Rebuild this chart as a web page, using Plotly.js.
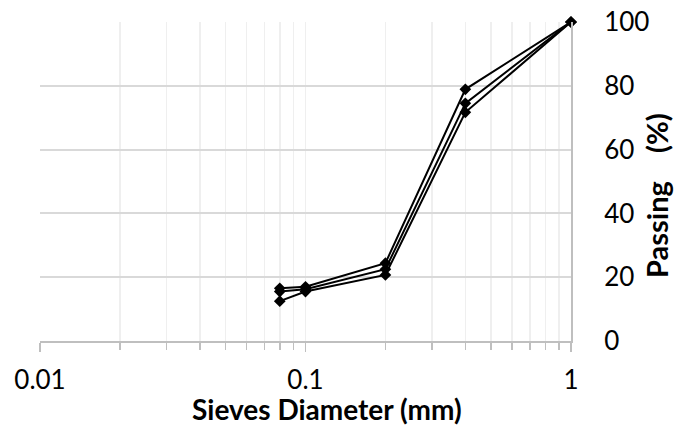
<!DOCTYPE html>
<html>
<head>
<meta charset="utf-8">
<script src="https://cdn.plot.ly/plotly-3.0.1.min.js"></script>
<style>
  html, body { margin: 0; padding: 0; background: #fff; }
  #chart { width: 675px; height: 430px; }
</style>
</head>
<body>
<div id="chart"></div>
<script>
// Sieve sizes (mm) and percent passing for three samples
const sieveSizes = [0.08, 0.1, 0.2, 0.4, 1];
const passingA = [16.5, 17.0, 24.4, 78.9, 100];
const passingB = [15.5, 16.2, 22.5, 74.5, 100];
const passingC = [12.5, 15.5, 20.7, 71.7, 100];
const xTickVals = [0.01, 0.1, 1];
const xTickText = ['0.01', '0.1', '1'];
const yTickVals = [0, 20, 40, 60, 80, 100];
const xTitle = 'Sieves Diameter (mm)';
const yTitle = 'Passing\u00a0\u00a0\u00a0\u00a0(%)';

const FONT = 'Lato, "Open Sans", sans-serif';

function curve(y) {
  return {
    x: sieveSizes, y: y, type: 'scatter', mode: 'lines+markers',
    line: { color: '#000', width: 2 },
    marker: { symbol: 'diamond', size: 9, color: '#000' },
    cliponaxis: false, showlegend: false, hoverinfo: 'skip'
  };
}

const traces = [curve(passingA), curve(passingB), curve(passingC)];

const layout = {
  width: 675, height: 430,
  margin: { l: 40, r: 104, t: 22, b: 89 },
  paper_bgcolor: '#fff', plot_bgcolor: '#fff',
  font: { family: FONT, color: '#000', size: 26 },
  showlegend: false,
  xaxis: {
    type: 'log', range: [-2, 0],
    tickmode: 'array', tickvals: xTickVals, ticktext: xTickText,
    ticks: 'outside', ticklen: 9, tickwidth: 1.5, tickcolor: '#bfbfbf',
    showgrid: true, gridcolor: '#efefef', gridwidth: 1.5,
    minor: { dtick: 'D1', ticks: 'outside', ticklen: 7, tickwidth: 1.5,
             tickcolor: '#bfbfbf', showgrid: true, gridcolor: '#efefef', gridwidth: 1.5 },
    showline: true, linecolor: '#bfbfbf', linewidth: 2,
    zeroline: false, ticklabelstandoff: 6,
    tickfont: { family: FONT, size: 26 }
  },
  // inward half of the crossing tick marks
  xaxis2: {
    type: 'log', range: [-2, 0], overlaying: 'x', anchor: 'y',
    tickmode: 'array', tickvals: xTickVals,
    ticks: 'inside', ticklen: 9, tickwidth: 1.5, tickcolor: '#bfbfbf',
    showticklabels: false, showgrid: false, zeroline: false, showline: false,
    minor: { dtick: 'D1', ticks: 'inside', ticklen: 6, tickwidth: 1.5,
             tickcolor: '#bfbfbf', showgrid: false }
  },
  yaxis: {
    side: 'right', range: [0, 100],
    tickmode: 'array', tickvals: yTickVals,
    ticks: '', showgrid: true, gridcolor: '#d9d9d9', gridwidth: 2,
    showline: true, linecolor: '#bfbfbf', linewidth: 2,
    zeroline: false, ticklabelstandoff: 26,
    tickfont: { family: FONT, size: 26 }
  },
  annotations: [
    { text: '<b>' + xTitle + '</b>', xref: 'paper', yref: 'paper',
      x: 0.5405, y: -0.213, xanchor: 'center', yanchor: 'middle',
      showarrow: false, font: { family: FONT, size: 28, color: '#000' } },
    { text: '<b>' + yTitle + '</b>', xref: 'paper', yref: 'paper', textangle: -90,
      x: 1.162, y: 0.455, xanchor: 'center', yanchor: 'middle',
      showarrow: false, font: { family: FONT, size: 29, color: '#000' } }
  ]
};

Plotly.newPlot('chart', traces, layout, { staticPlot: true, displayModeBar: false });
</script>
</body>
</html>
